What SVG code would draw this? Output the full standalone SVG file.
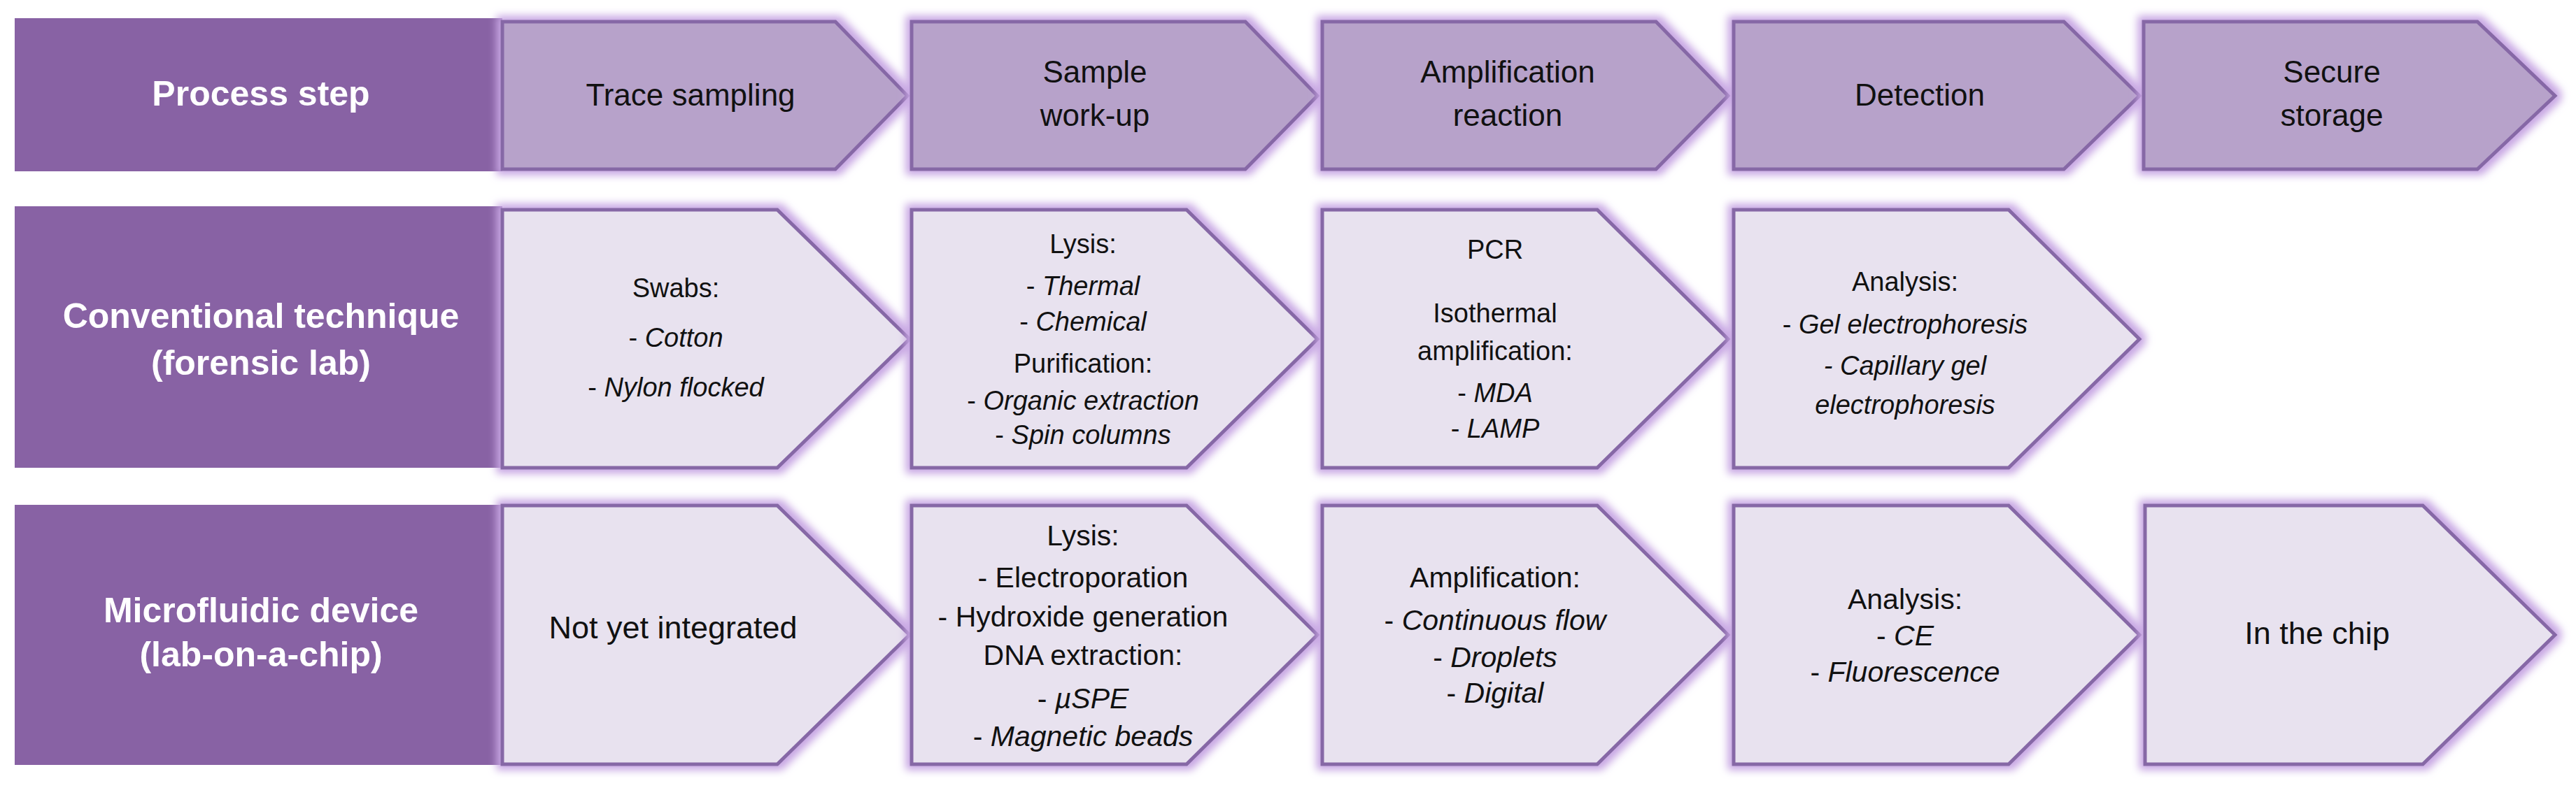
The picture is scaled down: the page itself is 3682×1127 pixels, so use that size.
<svg xmlns="http://www.w3.org/2000/svg" width="3682" height="1127" viewBox="0 0 3682 1127">
<style>
.lab{fill:#8862a4}
.hd{fill:#b7a2ca;stroke:#8667a6;stroke-width:5;filter:url(#glow)}
.lt{fill:#e8e2ef;stroke:#8667a6;stroke-width:5;filter:url(#glow)}
text{font-family:"Liberation Sans",Arial,sans-serif;text-anchor:middle;fill:#111}
.lw{fill:#fff;font-weight:bold;font-size:50px}
.h{font-size:44px}
.r2{font-size:38px}
.r3{font-size:41px}
.i{font-style:italic}
</style>
<defs>
<filter id="glow" x="-10%" y="-10%" width="120%" height="120%">
<feMorphology in="SourceAlpha" operator="dilate" radius="6" result="d"/>
<feGaussianBlur in="d" stdDeviation="6" result="b"/>
<feFlood flood-color="#c7a6e3"/>
<feComposite in2="b" operator="in" result="g"/>
<feMerge><feMergeNode in="g"/><feMergeNode in="SourceGraphic"/></feMerge>
</filter>
</defs>
<rect width="3682" height="1127" fill="#fff"/>
<g id="labels">
<g id="lab-process"><rect class="lab" x="21" y="26" width="697" height="219"/><text class="lw" x="373" y="151">Process step</text></g>
<g id="lab-conv"><rect class="lab" x="21" y="295" width="697" height="374"/><text class="lw" x="373" y="469">Conventional technique</text><text class="lw" x="373" y="536">(forensic lab)</text></g>
<g id="lab-micro"><rect class="lab" x="21" y="722" width="697" height="372"/><text class="lw" x="373" y="890">Microfluidic device</text><text class="lw" x="373" y="953">(lab-on-a-chip)</text></g>
</g>
<g id="header">
<g id="h1"><polygon class="hd" points="718,31 1194,31 1297,137 1194,242 718,242"/><text class="h" x="987" y="151">Trace sampling</text></g>
<g id="h2"><polygon class="hd" points="1303,31 1780,31 1883,137 1780,242 1303,242"/><text class="h" x="1565" y="118">Sample</text><text class="h" x="1565" y="180">work-up</text></g>
<g id="h3"><polygon class="hd" points="1890,31 2367,31 2470,137 2367,242 1890,242"/><text class="h" x="2155" y="118">Amplification</text><text class="h" x="2155" y="180">reaction</text></g>
<g id="h4"><polygon class="hd" points="2478,31 2950,31 3058,137 2950,242 2478,242"/><text class="h" x="2744" y="151">Detection</text></g>
<g id="h5"><polygon class="hd" points="3064,31 3541,31 3652,137 3541,242 3064,242"/><text class="h" x="3333" y="118">Secure</text><text class="h" x="3333" y="180">storage</text></g>
</g>
<g id="conventional">
<g id="c1"><polygon class="lt" points="718,300 1111,300 1300,485 1111,669 718,669"/><text class="r2" x="966" y="425">Swabs:</text><text class="r2" x="966" y="496">- <tspan class="i">Cotton</tspan></text><text class="r2" x="966" y="567">- <tspan class="i">Nylon flocked</tspan></text></g>
<g id="c2"><polygon class="lt" points="1303,300 1696,300 1883,485 1696,669 1303,669"/><text class="r2" x="1548" y="362">Lysis:</text><text class="r2" x="1548" y="422">- <tspan class="i">Thermal</tspan></text><text class="r2" x="1548" y="473">- <tspan class="i">Chemical</tspan></text><text class="r2" x="1548" y="533">Purification:</text><text class="r2" x="1548" y="586">- <tspan class="i">Organic extraction</tspan></text><text class="r2" x="1548" y="635">- <tspan class="i">Spin columns</tspan></text></g>
<g id="c3"><polygon class="lt" points="1890,300 2283,300 2470,485 2283,669 1890,669"/><text class="r2" x="2137" y="370">PCR</text><text class="r2" x="2137" y="461">Isothermal</text><text class="r2" x="2137" y="515">amplification:</text><text class="r2" x="2137" y="575">- <tspan class="i">MDA</tspan></text><text class="r2" x="2137" y="626">- <tspan class="i">LAMP</tspan></text></g>
<g id="c4"><polygon class="lt" points="2478,300 2871,300 3058,485 2871,669 2478,669"/><text class="r2" x="2723" y="416">Analysis:</text><text class="r2" x="2723" y="477">- <tspan class="i">Gel electrophoresis</tspan></text><text class="r2 i" x="2723" y="536">- Capillary gel</text><text class="r2 i" x="2723" y="592">electrophoresis</text></g>
</g>
<g id="microfluidic">
<g id="m1"><polygon class="lt" points="718,723 1111,723 1300,908 1111,1093 718,1093"/><text class="r3" x="962" y="913" style="font-size:45px">Not yet integrated</text></g>
<g id="m2"><polygon class="lt" points="1303,723 1696,723 1883,908 1696,1093 1303,1093"/><text class="r3" x="1548" y="780">Lysis:</text><text class="r3" x="1548" y="840">- Electroporation</text><text class="r3" x="1548" y="896">- Hydroxide generation</text><text class="r3" x="1548" y="951">DNA extraction:</text><text class="r3" x="1548" y="1013">- <tspan class="i">µSPE</tspan></text><text class="r3" x="1548" y="1067">- <tspan class="i">Magnetic beads</tspan></text></g>
<g id="m3"><polygon class="lt" points="1890,723 2283,723 2470,908 2283,1093 1890,1093"/><text class="r3" x="2137" y="840">Amplification:</text><text class="r3" x="2137" y="901">- <tspan class="i">Continuous flow</tspan></text><text class="r3" x="2137" y="954">- <tspan class="i">Droplets</tspan></text><text class="r3" x="2137" y="1005">- <tspan class="i">Digital</tspan></text></g>
<g id="m4"><polygon class="lt" points="2478,723 2871,723 3058,908 2871,1093 2478,1093"/><text class="r3" x="2723" y="871">Analysis:</text><text class="r3" x="2723" y="923">- <tspan class="i">CE</tspan></text><text class="r3" x="2723" y="975">- <tspan class="i">Fluorescence</tspan></text></g>
<g id="m5"><polygon class="lt" points="3066,723 3463,723 3652,908 3463,1093 3066,1093"/><text class="r3" x="3312" y="921" style="font-size:45px">In the chip</text></g>
</g>
<g id="connectors"/>
</svg>
